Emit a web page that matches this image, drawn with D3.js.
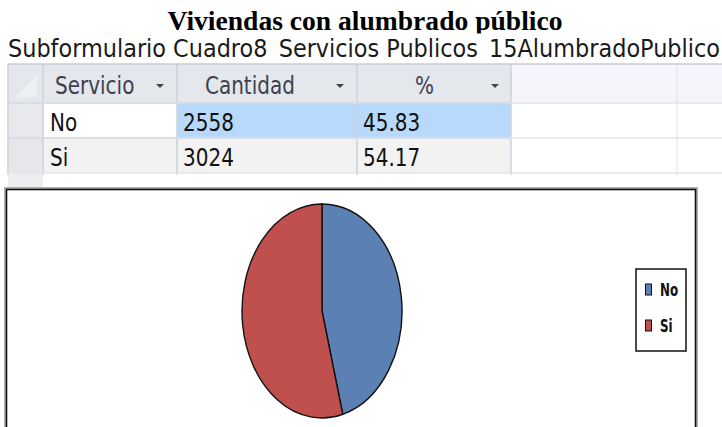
<!DOCTYPE html>
<html>
<head>
<meta charset="utf-8">
<script src="https://cdn.jsdelivr.net/npm/d3@7"></script>
<style>
  body { margin: 0; background: #fff; }
  svg { display: block; }
</style>
</head>
<body>
<svg id="chart" width="722" height="427"></svg>
<script>
// data
const title = "Viviendas con alumbrado público";
const subtitle = "Subformulario Cuadro8_Servicios Publicos_15AlumbradoPublico";
const headers = ["Servicio", "Cantidad", "%"];
const servicios = ["No", "Si"];
const cantidades = [2558, 3024];
const porcentajes = ["45.83", "54.17"];
const colors = ["#5b81b4", "#c0504d"];

const svg = d3.select("#chart");
const tableFont = "'DejaVu Sans', sans-serif";

// title + subtitle (both clipped at the bottom like the screenshot)
svg.append("text")
  .attr("x", 365).attr("y", 30)
  .attr("text-anchor", "middle")
  .attr("font-family", "'Liberation Serif', 'Times New Roman', serif")
  .attr("font-weight", "bold")
  .attr("font-size", 28)
  .attr("textLength", 395)
  .attr("lengthAdjust", "spacingAndGlyphs")
  .text(title);
svg.append("rect").attr("x", 0).attr("y", 33.5).attr("width", 722).attr("height", 4).attr("fill", "#fff");

svg.append("text")
  .attr("x", 8).attr("y", 57)
  .attr("font-family", tableFont)
  .attr("font-size", 25)
  .attr("fill", "#1a1a1a")
  .attr("textLength", 712)
  .attr("lengthAdjust", "spacingAndGlyphs")
  .text(subtitle);
svg.append("rect").attr("x", 0).attr("y", 59.5).attr("width", 722).attr("height", 5).attr("fill", "#fff");

// table grid
let colEdges = [8, 43, 177, 357, 511, 677, 740];
let rowEdges = [64, 103, 138, 173, 200];

const table = svg.append("g");

table.append("rect")
  .attr("x", 8).attr("y", rowEdges[0])
  .attr("width", 722).attr("height", rowEdges[4] - rowEdges[0])
  .attr("fill", "#fff");

// header row
table.append("rect").attr("x", 8).attr("y", rowEdges[0]).attr("width", 503).attr("height", rowEdges[1] - rowEdges[0]).attr("fill", "#e4e7eb");
table.append("rect").attr("x", 511).attr("y", rowEdges[0]).attr("width", 220).attr("height", rowEdges[1] - rowEdges[0]).attr("fill", "#f5f6fb");
table.append("path")
  .attr("d", `M16,97 L37,75 L37,97 Z`)
  .attr("fill", "#eef0f3");

// row 1 (selected)
table.append("rect").attr("x", 8).attr("y", rowEdges[1]).attr("width", 35).attr("height", 35).attr("fill", "#e8e9ec");
table.append("rect").attr("x", 177).attr("y", rowEdges[1]).attr("width", 334).attr("height", 35).attr("fill", "#b8d9fb");
// row 2
table.append("rect").attr("x", 8).attr("y", rowEdges[2]).attr("width", 35).attr("height", 35).attr("fill", "#e6e7ea");
table.append("rect").attr("x", 43).attr("y", rowEdges[2]).attr("width", 468).attr("height", 35).attr("fill", "#f2f2f2");
// new row strip
table.append("rect").attr("x", 8).attr("y", rowEdges[3]).attr("width", 35).attr("height", 20).attr("fill", "#eceef2");

// grid lines
table.selectAll("line.v")
  .data(colEdges.slice(0, 6))
  .join("line")
  .attr("x1", d => d).attr("x2", d => d)
  .attr("y1", rowEdges[0]).attr("y2", rowEdges[3] + 2)
  .attr("stroke", (d, i) => i < 5 ? "#cdd1d8" : "#e8eaf0")
  .attr("stroke-width", 1.5);

table.selectAll("line.h")
  .data(rowEdges.slice(0, 4))
  .join("line")
  .attr("x1", 8).attr("x2", 722)
  .attr("y1", d => d).attr("y2", d => d)
  .attr("stroke", (d, i) => i === 0 ? "#c8ccd3" : "#e3e5ea")
  .attr("stroke-width", 1.5);

table.append("line")
  .attr("x1", 8).attr("x2", 511).attr("y1", rowEdges[1]).attr("y2", rowEdges[1])
  .attr("stroke", "#d6dae0").attr("stroke-width", 1.5);
table.append("line")
  .attr("x1", 8).attr("x2", 511).attr("y1", rowEdges[2]).attr("y2", rowEdges[2])
  .attr("stroke", "#d6dae0").attr("stroke-width", 1.5);

function cellText(tx, ty, str, color) {
  table.append("text")
    .attr("transform", `translate(${tx},${ty}) scale(0.8,1)`)
    .attr("font-family", tableFont)
    .attr("font-size", 25)
    .attr("fill", color)
    .text(str);
}

// header labels + dropdown arrows
const headerX = [55, 205, 415];
const arrowX = [160, 340, 495];
headers.forEach((h, i) => {
  cellText(headerX[i], 94, h, "#3e4150");
  table.append("path")
    .attr("d", `M${arrowX[i] - 4},84 L${arrowX[i] + 4},84 L${arrowX[i]},88 Z`)
    .attr("fill", "#444");
});

servicios.forEach((s, i) => {
  const y = rowEdges[i + 1] + 28;
  cellText(50, y, s, "#111");
  cellText(183, y, cantidades[i], "#111");
  cellText(363, y, porcentajes[i], "#111");
});

// chart frame
svg.append("rect")
  .attr("x", 5.5).attr("y", 188.5)
  .attr("width", 691).attr("height", 280)
  .attr("fill", "#fff")
  .attr("stroke", "#b0b0b0").attr("stroke-width", 3);
svg.append("rect")
  .attr("x", 6.5).attr("y", 189.5)
  .attr("width", 689).attr("height", 280)
  .attr("fill", "none")
  .attr("stroke", "#111").attr("stroke-width", 1.6);

// pie (stretched vertically into an ellipse)
const cx = 322, cy = 311, rx = 80, ry = 107;
const pie = d3.pie().sort(null)(cantidades);
const arc = d3.arc().innerRadius(0).outerRadius(ry);

svg.append("g")
  .attr("transform", `translate(${cx},${cy}) scale(${rx / ry},1)`)
  .selectAll("path")
  .data(pie)
  .join("path")
  .attr("d", arc)
  .attr("fill", (d, i) => colors[i])
  .attr("stroke", "#111")
  .attr("stroke-width", 1.4)
  .attr("vector-effect", "non-scaling-stroke");

// legend
const legend = svg.append("g");
legend.append("rect")
  .attr("x", 636).attr("y", 269)
  .attr("width", 50).attr("height", 82)
  .attr("fill", "#fff")
  .attr("stroke", "#111").attr("stroke-width", 1.5);

const ly = d3.scalePoint().domain(servicios).range([284, 320]);
legend.selectAll("rect.key")
  .data(servicios)
  .join("rect")
  .attr("class", "key")
  .attr("x", 645.5).attr("y", d => ly(d))
  .attr("width", 6).attr("height", 11)
  .attr("fill", (d, i) => colors[i])
  .attr("stroke", "#111").attr("stroke-width", 1);

legend.selectAll("text")
  .data(servicios)
  .join("text")
  .attr("transform", d => `translate(660,${ly(d) + 12}) scale(0.66,1)`)
  .attr("font-family", tableFont)
  .attr("font-weight", "bold")
  .attr("font-size", 18)
  .attr("fill", "#111")
  .text(d => d);
</script>
</body>
</html>
